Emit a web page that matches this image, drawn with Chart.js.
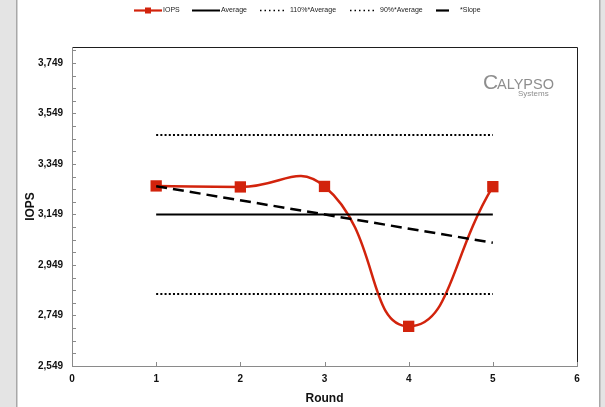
<!DOCTYPE html>
<html>
<head>
<meta charset="utf-8">
<script src="https://cdn.jsdelivr.net/npm/chart.js@4.4.1/dist/chart.umd.min.js"></script>
<style>
  html, body { margin: 0; padding: 0; background: #e4e4e4; }
  #wrap { width: 605px; height: 407px; position: relative; }
  canvas { display: block; }
</style>
</head>
<body>
<div id="wrap"><canvas id="chart" width="605" height="407"></canvas></div>
<script>
// Test rounds and measured IOPS per round
const rounds = [1, 2, 3, 4, 5];
const iops = [3262, 3258, 3260, 2706, 3259];

// Reference lines across the measurement window (round 1 to round 5)
const windowRounds = [1, 5];
const average = [3149, 3149];
const avg110 = [3464, 3464];
const avg90 = [2834, 2834];
const slope = [3261, 3037];

// Axis settings
const xTicks = [0, 1, 2, 3, 4, 5, 6];
const yMajorTicks = [2549, 2749, 2949, 3149, 3349, 3549, 3749];
const yMinorStep = 50;
const yMin = 2549;
const yMax = 3812;

const RED = '#d2230c';
const FONT = '"Liberation Sans", Arial, sans-serif';
const pts = (xs, ys) => xs.map((x, i) => ({ x: x, y: ys[i] }));

// Page frame, plot border, inward tick marks, legend and logo
const decor = {
  id: 'decor',
  beforeDraw(chart) {
    const c = chart.ctx;
    c.save();
    c.fillStyle = '#e4e4e4';
    c.fillRect(0, 0, chart.width, chart.height);
    c.fillStyle = '#ffffff';
    c.fillRect(17, 0, 582, chart.height);
    c.fillStyle = '#a8a8a8';
    c.fillRect(16, 0, 1.5, chart.height);
    c.fillRect(599, 0, 1.5, chart.height);
    c.restore();
  },
  afterDatasetsDraw(chart) {
    const c = chart.ctx;
    const a = chart.chartArea;
    const xs = chart.scales.x, ys = chart.scales.y;
    c.save();
    // plot border
    c.strokeStyle = '#1e1e1e';
    c.lineWidth = 1;
    c.beginPath();
    c.moveTo(Math.round(a.left) + 0.5, Math.round(a.top) + 0.5);
    c.lineTo(Math.round(a.right) + 0.5, Math.round(a.top) + 0.5);
    c.lineTo(Math.round(a.right) + 0.5, Math.round(a.bottom) + 0.5);
    c.stroke();
    c.strokeStyle = '#8a8a8a';
    c.beginPath();
    c.moveTo(Math.round(a.left) + 0.5, Math.round(a.top) + 0.5);
    c.lineTo(Math.round(a.left) + 0.5, Math.round(a.bottom) + 0.5);
    c.lineTo(Math.round(a.right) + 0.5, Math.round(a.bottom) + 0.5);
    c.stroke();
    // inward tick marks
    c.beginPath();
    ys.ticks.forEach(t => {
      const y = Math.round(ys.getPixelForValue(t.value)) + 0.5;
      c.moveTo(a.left, y);
      c.lineTo(a.left + 4, y);
    });
    xs.ticks.forEach(t => {
      const x = Math.round(xs.getPixelForValue(t.value)) + 0.5;
      c.moveTo(x, a.bottom);
      c.lineTo(x, a.bottom - 4);
    });
    c.stroke();

    // logo
    c.fillStyle = '#8e8e8e';
    c.textBaseline = 'alphabetic';
    c.textAlign = 'left';
    c.font = '21px ' + FONT;
    c.fillText('C', 483, 88.5);
    c.font = '14.5px ' + FONT;
    c.fillText('ALYPSO', 497, 88.5);
    c.font = '8px ' + FONT;
    c.fillText('Systems', 518, 95.5);
    c.restore();
  },
  afterDraw(chart) {
    const c = chart.ctx;
    c.save();
    const ly = 10.5;
    c.font = '7px ' + FONT;
    c.textBaseline = 'middle';
    c.fillStyle = '#222';
    const line = (x1, x2, w, dash, color) => {
      c.strokeStyle = color;
      c.lineWidth = w;
      c.setLineDash(dash);
      c.beginPath();
      c.moveTo(x1, ly);
      c.lineTo(x2, ly);
      c.stroke();
      c.setLineDash([]);
    };
    line(134, 162, 2.2, [], RED);
    c.fillStyle = RED;
    c.fillRect(145, 7.5, 6, 6);
    c.fillStyle = '#222';
    c.fillText('IOPS', 163, ly);
    line(192, 220, 2, [], '#000');
    c.fillText('Average', 221, ly);
    line(260, 286, 1.5, [1.5, 3], '#000');
    c.fillText('110%*Average', 290, ly);
    line(350, 376, 1.5, [1.5, 3], '#000');
    c.fillText('90%*Average', 380, ly);
    line(436, 449, 2.2, [], '#000');
    c.fillText('*Slope', 460, ly);
    c.restore();
  }
};

new Chart(document.getElementById('chart'), {
  type: 'line',
  data: {
    datasets: [
      {
        label: 'Average', data: pts(windowRounds, average),
        borderColor: '#000', borderWidth: 2, pointRadius: 0, tension: 0
      },
      {
        label: '110%*Average', data: pts(windowRounds, avg110),
        borderColor: '#000', borderWidth: 2, borderDash: [2, 2.2], pointRadius: 0, tension: 0
      },
      {
        label: '90%*Average', data: pts(windowRounds, avg90),
        borderColor: '#000', borderWidth: 2, borderDash: [2, 2.2], pointRadius: 0, tension: 0
      },
      {
        label: '*Slope', data: pts(windowRounds, slope),
        borderColor: '#000', borderWidth: 2.5, borderDash: [11, 6], pointRadius: 0, tension: 0
      },
      {
        label: 'IOPS', data: pts(rounds, iops),
        borderColor: RED, borderWidth: 2.5, tension: 0.5,
        pointStyle: 'rect', pointRadius: 8, pointBackgroundColor: RED, pointBorderColor: RED, pointBorderWidth: 0
      }
    ]
  },
  options: {
    responsive: false,
    animation: false,
    events: [],
    layout: { padding: { left: 17, right: 28, top: 47, bottom: 0 } },
    plugins: { legend: { display: false }, tooltip: { enabled: false } },
    scales: {
      x: {
        type: 'linear', min: 0, max: 6,
        afterBuildTicks: s => { s.ticks = xTicks.map(v => ({ value: v })); },
        afterFit: s => { s.height = 41; },
        grid: { display: false, drawTicks: false },
        border: { display: false },
        ticks: {
          padding: 7, color: '#111',
          font: { family: FONT, size: 10, weight: 'bold' },
          callback: v => String(v)
        },
        title: {
          display: true, text: 'Round', color: '#111',
          font: { family: FONT, size: 12, weight: 'bold' },
          padding: { top: 0, bottom: 1 }
        }
      },
      y: {
        type: 'linear', min: yMin, max: yMax,
        afterBuildTicks: s => {
          const t = [];
          for (let v = yMin; v <= yMax; v += yMinorStep) t.push({ value: v });
          s.ticks = t;
        },
        afterFit: s => { s.width = 55; },
        grid: { display: false, drawTicks: false },
        border: { display: false },
        ticks: {
          padding: 9, color: '#111', autoSkip: false,
          font: { family: FONT, size: 10, weight: 'bold' },
          callback: v => yMajorTicks.includes(v) ? v.toLocaleString('en-US') : ''
        },
        title: {
          display: true, text: 'IOPS', color: '#111',
          font: { family: FONT, size: 12, weight: 'bold' },
          padding: { top: 6, bottom: 0 }
        }
      }
    }
  },
  plugins: [decor]
});
</script>
</body>
</html>
